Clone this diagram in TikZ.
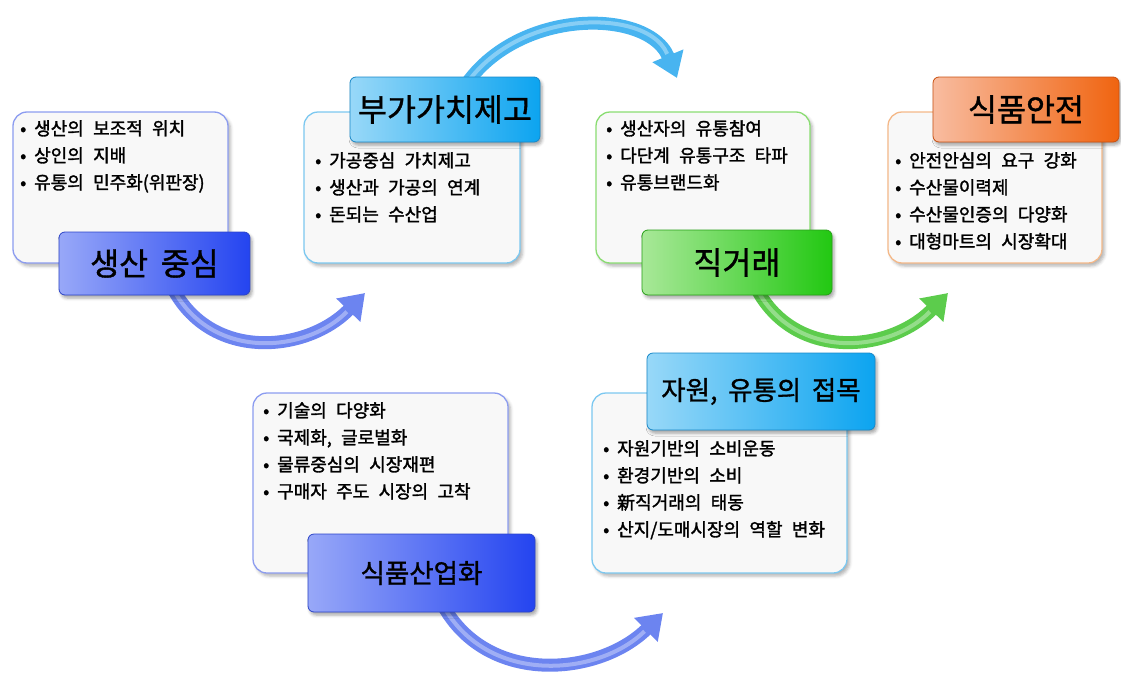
\documentclass[tikz,border=0pt]{standalone}
\usepackage{fontspec}
\setmainfont{Noto Sans CJK KR}[WordSpace=1.6]
\newfontfamily\bulfont{Noto Sans CJK KR}[WordSpace=2.3, FakeBold=1.6]
\newfontfamily\ttlfont{Noto Sans CJK KR}[WordSpace=1.8, FakeBold=1.2]
\usetikzlibrary{arrows.meta,shadows.blur,calc}
\definecolor{bxBlue}{HTML}{8C9CF0}
\definecolor{bxCyan}{HTML}{7CC8F0}
\definecolor{bxGreen}{HTML}{8ADD72}
\definecolor{bxOrange}{HTML}{F4B888}
\definecolor{boxFill}{HTML}{F8F8F8}
\definecolor{tBlueL}{HTML}{98A8F8}
\definecolor{tBlueR}{HTML}{2444F0}
\definecolor{tBlueD}{HTML}{2C44C8}
\definecolor{tCyanL}{HTML}{98D8F8}
\definecolor{tCyanR}{HTML}{0CA4F0}
\definecolor{tCyanD}{HTML}{1888C8}
\definecolor{tGreenL}{HTML}{A8E898}
\definecolor{tGreenR}{HTML}{22C812}
\definecolor{tGreenD}{HTML}{28A018}
\definecolor{tOrangeL}{HTML}{F8BCA0}
\definecolor{tOrangeR}{HTML}{F06410}
\definecolor{tOrangeD}{HTML}{C85010}
\definecolor{aBlue}{HTML}{6C84F0}
\definecolor{aCyan}{HTML}{48B4F0}
\definecolor{aGreen}{HTML}{5CCC4C}
\newcommand\bul{\makebox[14pt][l]{•}}
\begin{document}
\begin{tikzpicture}[x=1pt,y=-1pt,
  dbox/.style={rectangle, rounded corners=14pt, draw=#1, line width=1.3pt, fill=boxFill, inner sep=0pt,
    blur shadow={shadow xshift=2.5pt, shadow yshift=-3pt, shadow opacity=30, shadow blur radius=3pt}},
  ttl/.style={rectangle, rounded corners=6pt, inner sep=0pt, text=black, line width=0.8pt,
    blur shadow={shadow xshift=2pt, shadow yshift=-3pt, shadow opacity=35, shadow blur radius=3pt}},
  tBlue/.style={ttl, left color=tBlueL, right color=tBlueR, draw=tBlueD},
  tCyan/.style={ttl, left color=tCyanL, right color=tCyanR, draw=tCyanD},
  tGreen/.style={ttl, left color=tGreenL, right color=tGreenR, draw=tGreenD},
  tOrange/.style={ttl, left color=tOrangeL, right color=tOrangeR, draw=tOrangeD},
  bigT/.style={font=\ttlfont\fontsize{31.5}{34}\selectfont},
  midT/.style={font=\ttlfont\fontsize{26.5}{30}\selectfont},
  blist/.style={anchor=north west, inner sep=0pt, align=left, font=\bulfont\fontsize{18}{27}\selectfont},
  arw/.style={line width=13pt, draw=#1, -{Triangle[width=32pt,length=24pt]},
    postaction={draw=white, draw opacity=0.35, line width=4pt, shorten >=26pt, -}}
]
\useasboundingbox (0,0) rectangle (1121,680);

% detail boxes
\node[dbox=bxBlue, minimum width=215pt, minimum height=151pt] (b1) at (120.5,187.5) {};
\node[dbox=bxCyan, minimum width=216pt, minimum height=151pt] (b2) at (412,187.5) {};
\node[dbox=bxGreen, minimum width=214pt, minimum height=151pt] (b3) at (703,187.5) {};
\node[dbox=bxOrange, minimum width=214pt, minimum height=151pt] (b4) at (995,187.5) {};
\node[dbox=bxBlue, minimum width=255pt, minimum height=180pt] (b5) at (380.5,483) {};
\node[dbox=bxCyan, minimum width=255pt, minimum height=180pt] (b6) at (719.5,483) {};

% title node positions (needed for arrows)
\path (154.5,263.5) coordinate (c1) (445,109.5) coordinate (c2) (737,262.5) coordinate (c3)
      (1026,109.5) coordinate (c4) (421.5,573) coordinate (c5) (761,391.5) coordinate (c6);

% arrow end points
\coordinate (e1) at (365,293);
\coordinate (e2) at (677,78);
\coordinate (e3) at (948,293);
\coordinate (e4) at (663,613);

% arrows (drawn before titles so titles cover their start)
\draw[arw=aBlue] ($(c1)+(3,-25)$) .. controls (175,365) and (300,360) .. (e1);
\draw[arw=aCyan] ($(c2)+(0,25)$) .. controls (470,8) and (645,0) .. (e2);
\draw[arw=aGreen] ($(c3)+(4,-25)$) .. controls (758,365) and (883,360) .. (e3);
\draw[arw=aBlue] ($(c5)+(3,-30)$) .. controls (440,690) and (590,685) .. (e4);

% titles
\node[tBlue, bigT, minimum width=191pt, minimum height=63pt] (t1) at (c1) {생산 중심};
\node[tCyan, bigT, minimum width=190pt, minimum height=65pt] (t2) at (c2) {부가가치제고};
\node[tGreen, bigT, minimum width=190pt, minimum height=65pt] (t3) at (c3) {직거래};
\node[tOrange, bigT, minimum width=186pt, minimum height=65pt] (t4) at (c4) {식품안전};
\node[tBlue, midT, minimum width=227pt, minimum height=78pt] (t5) at (c5) {식품산업화};
\node[tCyan, midT, minimum width=228pt, minimum height=77pt] (t6) at (c6) {자원, 유통의 접목};

% bullet lists
\node[blist] (l1) at (20,120) {\bul 생산의 보조적 위치\\ \bul 상인의 지배\\ \bul 유통의 민주화(위판장)};
\node[blist] (l2) at (315,152) {\bul 가공중심 가치제고\\ \bul 생산과 가공의 연계\\ \bul 돈되는 수산업};
\node[blist] (l3) at (606,120) {\bul 생산자의 유통참여\\ \bul 다단계 유통구조 타파\\ \bul 유통브랜드화};
\node[blist] (l4) at (895,152) {\bul 안전안심의 요구 강화\\ \bul 수산물이력제\\ \bul 수산물인증의 다양화\\ \bul 대형마트의 시장확대};
\node[blist] (l5) at (263,402) {\bul 기술의 다양화\\ \bul 국제화, 글로벌화\\ \bul 물류중심의 시장재편\\ \bul 구매자 주도 시장의 고착};
\node[blist] (l6) at (603,440) {\bul 자원기반의 소비운동\\ \bul 환경기반의 소비\\ \bul 新직거래의 태동\\ \bul 산지/도매시장의 역할 변화};
\end{tikzpicture}
\end{document}
